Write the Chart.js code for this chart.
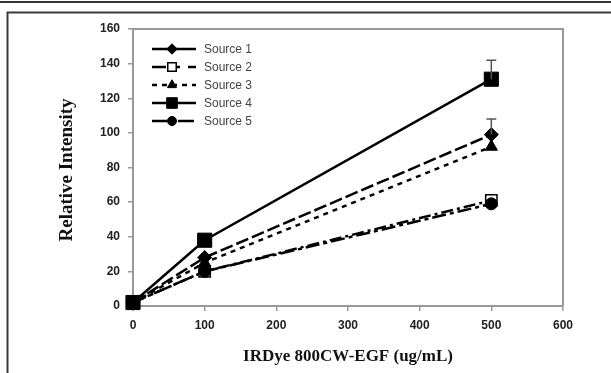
<!DOCTYPE html>
<html>
<head>
<meta charset="utf-8">
<script src="https://cdn.jsdelivr.net/npm/chart.js@4"></script>
<style>
  html, body { margin: 0; padding: 0; background: #fff; }
  canvas { display: block; }
</style>
</head>
<body>
<canvas id="intensity" width="611" height="373"></canvas>
<script>
// data
const concentrations = [0, 100, 500];
const source1 = [2, 28, 99];
const source2 = [2, 20, 61];
const source3 = [2, 25, 92];
const source4 = [2, 38, 131];
const source5 = [2, 20, 59];
const err1 = [0, 0, 9];
const err4 = [0, 0, 11];
const seriesNames = ['Source 1', 'Source 2', 'Source 3', 'Source 4', 'Source 5'];
const yTicks = [0, 20, 40, 60, 80, 100, 120, 140, 160];
const xTicks = [0, 100, 200, 300, 400, 500, 600];

const toPoints = (ys) => concentrations.map((x, i) => ({ x: x, y: ys[i] }));

// frame around the figure + top/right of plot box
const framePlugin = {
    id: 'frame',
    beforeDraw(chart) {
        const c = chart.ctx;
        c.save();
        c.strokeStyle = '#333';
        c.lineWidth = 2;
        c.beginPath();
        c.moveTo(0, 2); c.lineTo(611, 2);
        c.stroke();
        c.strokeStyle = '#3a3a3a';
        c.beginPath();
        c.moveTo(7.5, 373); c.lineTo(7.5, 12.5); c.lineTo(611, 12.5);
        c.stroke();
        c.restore();
    },
    afterDatasetsDraw(chart) {
        const a = chart.chartArea;
        const c = chart.ctx;
        c.save();
        c.strokeStyle = '#999';
        c.lineWidth = 2;
        c.beginPath();
        c.moveTo(a.left, a.top); c.lineTo(a.right, a.top); c.lineTo(a.right, a.bottom);
        c.stroke();
        c.restore();
    }
};

// upward error whiskers
const errorPlugin = {
    id: 'errbars',
    afterDatasetsDraw(chart) {
        const c = chart.ctx;
        const xs = chart.scales.x, ys = chart.scales.y;
        c.save();
        c.strokeStyle = '#555';
        c.lineWidth = 1.5;
        chart.data.datasets.forEach(ds => {
            if (!ds.errors) return;
            ds.data.forEach((p, i) => {
                if (!ds.errors[i]) return;
                const px = xs.getPixelForValue(p.x);
                const top = ys.getPixelForValue(p.y + ds.errors[i]);
                const py = ys.getPixelForValue(p.y);
                c.beginPath();
                c.moveTo(px, py); c.lineTo(px, top);
                c.moveTo(px - 5, top); c.lineTo(px + 5, top);
                c.stroke();
            });
        });
        c.restore();
    }
};

// legend with line sample, marker and name
const legendPlugin = {
    id: 'sketchLegend',
    afterDraw(chart) {
        const c = chart.ctx;
        c.save();
        chart.data.datasets.forEach((ds, i) => {
            const y = 49 + i * 18;
            c.strokeStyle = '#000';
            c.lineWidth = 2.5;
            c.setLineDash(ds.legendDash || []);
            c.beginPath();
            c.moveTo(152, y); c.lineTo(196, y);
            c.stroke();
            c.setLineDash([]);
            c.fillStyle = ds.pointBackgroundColor;
            c.lineWidth = ds.pointBorderWidth || 1;
            Chart.helpers.drawPoint(c, {
                pointStyle: ds.pointStyle,
                radius: ds.pointRadius * 0.75,
                borderWidth: ds.pointBorderWidth || 1
            }, 172, y);
            c.fillStyle = '#444';
            c.font = '12px Arial, "Liberation Sans", sans-serif';
            c.textBaseline = 'middle';
            c.fillText(ds.label, 204, y + 1);
        });
        c.restore();
    }
};

// axis titles
const titlePlugin = {
    id: 'axisTitles',
    afterDraw(chart) {
        const c = chart.ctx;
        c.save();
        c.fillStyle = '#111';
        c.textAlign = 'center';
        c.textBaseline = 'middle';
        c.font = 'bold 17px "Times New Roman", "Liberation Serif", serif';
        c.fillText('IRDye 800CW-EGF (ug/mL)', 348, 357);
        c.font = 'bold 19px "Times New Roman", "Liberation Serif", serif';
        c.translate(67, 170);
        c.rotate(-Math.PI / 2);
        c.fillText('Relative Intensity', 0, 0);
        c.restore();
    }
};

document.addEventListener('DOMContentLoaded', () => {
    const ctx = document.getElementById('intensity').getContext('2d');

    const base = {
        borderColor: '#000',
        backgroundColor: '#000',
        pointBorderColor: '#000',
        borderWidth: 2.5,
        pointBorderWidth: 1,
        clip: false,
        tension: 0
    };

    const data = {
        datasets: [
            Object.assign({}, base, {
                label: seriesNames[0], data: toPoints(source1), errors: err1, order: 1,
                pointStyle: 'rectRot', pointRadius: 7, pointBackgroundColor: '#000',
                borderDash: [13, 4], legendDash: []
            }),
            Object.assign({}, base, {
                label: seriesNames[1], data: toPoints(source2), order: 4,
                pointStyle: 'rect', pointRadius: 8, pointBackgroundColor: '#fff',
                pointBorderWidth: 1.5,
                borderDash: [12, 4, 3, 4], legendDash: [14, 8, 6, 8]
            }),
            Object.assign({}, base, {
                label: seriesNames[2], data: toPoints(source3), order: 2,
                pointStyle: 'triangle', pointRadius: 7, pointBackgroundColor: '#000',
                borderDash: [5, 5], legendDash: [5, 5]
            }),
            Object.assign({}, base, {
                label: seriesNames[3], data: toPoints(source4), errors: err4, order: 0,
                pointStyle: 'rect', pointRadius: 10, pointBackgroundColor: '#000',
                borderDash: [], legendDash: []
            }),
            Object.assign({}, base, {
                label: seriesNames[4], data: toPoints(source5), order: 3,
                pointStyle: 'circle', pointRadius: 6, pointBackgroundColor: '#000',
                borderDash: [14, 4, 4, 4], legendDash: [16, 10]
            })
        ]
    };

    const tickFont = { family: 'Arial, "Liberation Sans", sans-serif', size: 12, weight: 'bold' };

    const config = {
        type: 'line',
        data: data,
        options: {
            responsive: false,
            animation: false,
            layout: { padding: { left: 0, top: 29, right: 48, bottom: 0 } },
            plugins: { legend: { display: false }, tooltip: { enabled: false } },
            scales: {
                x: {
                    type: 'linear', min: 0, max: 600,
                    afterBuildTicks: (s) => { s.ticks = xTicks.map(v => ({ value: v })); },
                    afterFit: (s) => { s.height = 67; },
                    grid: { drawOnChartArea: false, drawTicks: true, tickLength: 5, color: '#999', lineWidth: 1.5 },
                    border: { display: true, color: '#999', width: 2 },
                    ticks: { font: tickFont, color: '#222', padding: 7, maxRotation: 0 }
                },
                y: {
                    type: 'linear', min: 0, max: 160,
                    afterBuildTicks: (s) => { s.ticks = yTicks.map(v => ({ value: v })); },
                    afterFit: (s) => { s.width = 133; },
                    grid: { drawOnChartArea: false, drawTicks: true, tickLength: 5, color: '#999', lineWidth: 1.5 },
                    border: { display: true, color: '#999', width: 2 },
                    ticks: { font: tickFont, color: '#222', padding: 8 }
                }
            }
        },
        plugins: [framePlugin, errorPlugin, legendPlugin, titlePlugin]
    };

    new Chart(ctx, config);
});
</script>
</body>
</html>
